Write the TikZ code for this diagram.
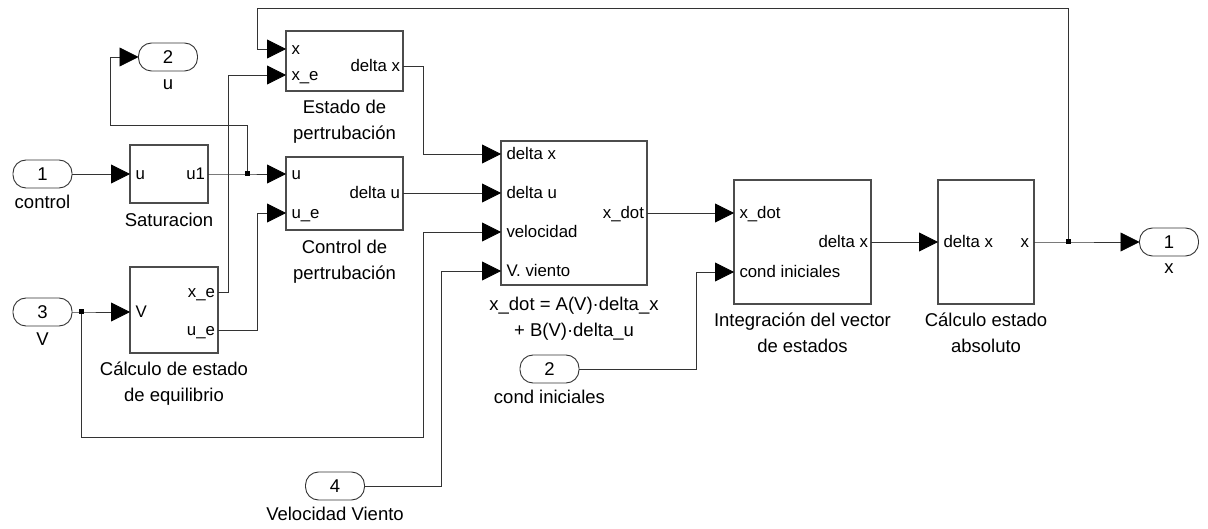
\documentclass[tikz,border=0pt]{standalone}
\usepackage{fontspec}
\setmainfont{Liberation Sans}
\usetikzlibrary{arrows.meta,calc}

\begin{document}
\begin{tikzpicture}[x=1pt,y=-1pt,>={Triangle[length=19pt,width=19pt,black]},
  block/.style={rectangle,draw=black!70,line width=1.1pt,outer sep=0pt,inner sep=0pt},
  port/.style={rectangle,draw=black!80,line width=0.9pt,rounded corners=13pt,minimum width=59pt,minimum height=28pt,inner sep=0pt,outer sep=0pt,font=\fontsize{18.5}{18.5}\selectfont},
  sig/.style={inner ysep=3pt,inner xsep=3pt,outer sep=0pt,text height=12pt,text depth=0pt,font=\fontsize{16.8}{18}\selectfont},
  sigin/.style={sig,anchor=west,inner xsep=5.5pt},
  sigout/.style={sig,anchor=east},
  caption/.style={align=center,anchor=north,inner sep=0pt,font=\fontsize{18.5}{26}\selectfont},
  wire/.style={draw=black!80,line width=0.8pt},
  dot/.style={rectangle,fill=black,minimum size=5pt,inner sep=0pt}]
\useasboundingbox (0,0) rectangle (1208,529);

% blocks
\draw (344.5,61) node[block,minimum width=117pt,minimum height=60pt] (EP) {};
\draw (169,174) node[block,minimum width=78pt,minimum height=58pt] (SAT) {};
\draw (344.5,193.5) node[block,minimum width=117pt,minimum height=73pt] (CP) {};
\draw (174,310) node[block,minimum width=88pt,minimum height=86pt] (CE) {};
\draw (574,213) node[block,minimum width=146pt,minimum height=144pt] (DYN) {};
\draw (802.5,242) node[block,minimum width=137pt,minimum height=124pt] (INT) {};
\draw (986,242) node[block,minimum width=96pt,minimum height=124pt] (ABS) {};

% block captions
\draw (EP.south) ++(0,9) node[caption] (EPcap) {Estado de\\pertrubación};
\draw (SAT.south) ++(0,10) node[caption] (SATcap) {Saturacion};
\draw (CP.south) ++(0,10) node[caption] (CPcap) {Control de\\pertrubación};
\draw (CE.south) ++(0,9) node[caption] (CEcap) {Cálculo de estado\\de equilibrio};
\draw (DYN.south) ++(0,12) node[caption] (DYNcap) {x\_dot = A(V)·delta\_x\\+ B(V)·delta\_u};
\draw (INT.south) ++(0,9) node[caption] (INTcap) {Integración del vector\\de estados};
\draw (ABS.south) ++(0,9) node[caption] (ABScap) {Cálculo estado\\absoluto};

% signal names inside blocks
\draw (286,49) node[sigin] (EPx) {x};
\draw (286,75) node[sigin] (EPxe) {x\_e};
\draw (403,66) node[sigout] (EPdx) {delta x};
\draw (130,174) node[sigin] (SATu) {u};
\draw (208,174) node[sigout] (SATu1) {u1};
\draw (286,174) node[sigin] (CPu) {u};
\draw (286,213) node[sigin] (CPue) {u\_e};
\draw (403,193) node[sigout] (CPdu) {delta u};
\draw (130,312) node[sigin] (CEV) {V};
\draw (218,292) node[sigout] (CExe) {x\_e};
\draw (218,330) node[sigout] (CEue) {u\_e};
\draw (501,154) node[sigin] (DYNdx) {delta x};
\draw (501,193) node[sigin] (DYNdu) {delta u};
\draw (501,232) node[sigin] (DYNvel) {velocidad};
\draw (501,271) node[sigin] (DYNvv) {V. viento};
\draw (647,213) node[sigout] (DYNxd) {x\_dot};
\draw (734,213) node[sigin] (INTxd) {x\_dot};
\draw (734,272) node[sigin] (INTci) {cond iniciales};
\draw (871,242) node[sigout] (INTdx) {delta x};
\draw (938,242) node[sigin] (ABSdx) {delta x};
\draw (1034,242) node[sigout,inner xsep=5pt] (ABSx) {x};

% in and out ports
\draw (42.5,174) node[port] (in1) {1};
\draw (42.5,312) node[port] (in3) {3};
\draw (335,486) node[port] (in4) {4};
\draw (549.5,369) node[port] (in2) {2};
\draw (168,57) node[port] (out2) {2};
\draw (1169,242) node[port] (out1) {1};
\draw (in1.south) ++(0,7) node[caption] (in1cap) {control};
\draw (in3.south) ++(0,7) node[caption] (in3cap) {V};
\draw (in4.south) ++(0,7) node[caption] (in4cap) {Velocidad Viento};
\draw (in2.south) ++(0,7) node[caption] (in2cap) {cond iniciales};
\draw (out2.south) ++(0,9) node[caption] (out2cap) {u};
\draw (out1.south) ++(0,8) node[caption] (out1cap) {x};

% branch points
\coordinate (br1) at (247,174);
\coordinate (br3) at (81,312);
\coordinate (br4) at (1068,242);

% wires
\draw [wire,->] (in1.east) -- (SATu.west);
\draw [wire,->] (SATu1.east) -- (br1) -- (CPu.west);
\draw [wire,->] (br1) |- (110,125) |- (out2.west);
\draw [wire,->] (CExe.east) -- ++(10,0) |- (EPxe.west);
\draw [wire,->] (CEue.east) -- ++(39,0) |- (CPue.west);
\draw [wire,->] (in3.east) -- (br3) -- (CEV.west);
\draw [wire,->] (br3) |- (423,437) |- (DYNvel.west);
\draw [wire,->] (EPdx.east) -- ++(20,0) |- (DYNdx.west);
\draw [wire,->] (CPdu.east) -- (DYNdu.west);
\draw [wire,->] (in4.east) -- ++(77,0) |- (DYNvv.west);
\draw [wire,->] (DYNxd.east) -- (INTxd.west);
\draw [wire,->] (in2.east) -- ++(117,0) |- (INTci.west);
\draw [wire,->] (INTdx.east) -- (ABSdx.west);
\draw [wire,->] (ABSx.east) -- (br4) -- (out1.west);
\draw [wire,->] (br4) |- (257,8) |- (EPx.west);

\draw (br1) node[dot] (br1dot) {};
\draw (br3) node[dot] (br3dot) {};
\draw (br4) node[dot] (br4dot) {};

\end{tikzpicture}
\end{document}
